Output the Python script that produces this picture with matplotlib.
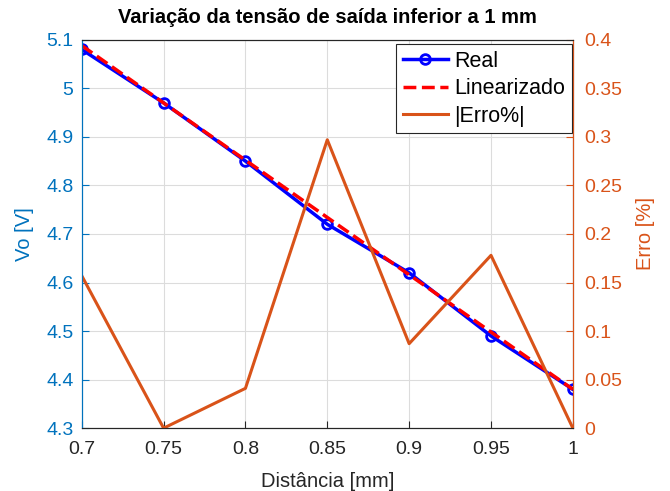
import matplotlib.pyplot as plt

plt.rcParams['font.family'] = ['Liberation Sans', 'DejaVu Sans']

# dados
distancia = [0.7, 0.75, 0.8, 0.85, 0.9, 0.95, 1.0]
vo_real = [5.08, 4.97, 4.85, 4.72, 4.62, 4.49, 4.38]
vo_lin = [5.088, 4.97, 4.852, 4.734, 4.616, 4.498, 4.38]
erro = [0.157, 0.0, 0.041, 0.297, 0.087, 0.178, 0.0]

cor_esq = (0, 0.447, 0.741)
cor_dir = (0.85, 0.325, 0.098)

fig = plt.figure(figsize=(6.7, 4.91), dpi=100)
ax = fig.add_axes([0.122, 0.128, 0.733, 0.791])
ax2 = ax.twinx()

l1, = ax.plot(distancia, vo_real, '-o', color='blue', linewidth=2.5,
              markersize=7, markerfacecolor='none', markeredgewidth=2, label='Real')
l2, = ax.plot(distancia, vo_lin, '--', color='red', linewidth=2.5, label='Linearizado')
l3, = ax2.plot(distancia, erro, '-', color=cor_dir, linewidth=2.2, label='|Erro%|')

ax.set_xlim(0.7, 1.0)
ax.set_ylim(4.3, 5.1)
ax2.set_ylim(0, 0.4)
ax.set_xticks(distancia)
ax.set_xticklabels(['0.7', '0.75', '0.8', '0.85', '0.9', '0.95', '1'])
ax.set_yticks([4.3, 4.4, 4.5, 4.6, 4.7, 4.8, 4.9, 5.0, 5.1])
ax.set_yticklabels(['4.3', '4.4', '4.5', '4.6', '4.7', '4.8', '4.9', '5', '5.1'])
ax2.set_yticks([0, 0.05, 0.1, 0.15, 0.2, 0.25, 0.3, 0.35, 0.4])
ax2.set_yticklabels(['0', '0.05', '0.1', '0.15', '0.2', '0.25', '0.3', '0.35', '0.4'])

ax.grid(True, color='#dcdcdc', linewidth=0.8)
ax.tick_params(axis='x', labelsize=14, colors='#262626', direction='in', length=5, pad=9)
ax.tick_params(axis='y', labelsize=14, colors=cor_esq, direction='in', length=5, pad=6)
ax2.tick_params(axis='y', labelsize=14, colors=cor_dir, direction='in', length=5, pad=8)

ax.spines['left'].set_color(cor_esq)
ax2.spines['left'].set_color(cor_esq)
ax2.spines['right'].set_color(cor_dir)
for s in ['top', 'bottom']:
    ax.spines[s].set_color('#262626')
    ax2.spines[s].set_color('#262626')

ax.set_xlabel('Distância [mm]', fontsize=14.5, color='#262626', labelpad=10)
ax.set_ylabel('Vo [V]', fontsize=14.5, color=cor_esq, labelpad=9)
ax2.set_ylabel('Erro [%]', fontsize=14.5, color=cor_dir, labelpad=10)
ax.set_title('Variação da tensão de saída inferior a 1 mm', fontsize=14.5,
             fontweight='bold', pad=12)

leg = ax2.legend(handles=[l1, l2, l3], loc='upper right', fontsize=15.5,
                 bbox_to_anchor=(0.998, 0.988),
                 fancybox=False, framealpha=1, edgecolor='#262626',
                 handlelength=2.1, handletextpad=0.3, borderpad=0.3,
                 labelspacing=0.3, borderaxespad=0.0)
leg.get_frame().set_linewidth(0.8)

fig.savefig('out.png', dpi=100)
